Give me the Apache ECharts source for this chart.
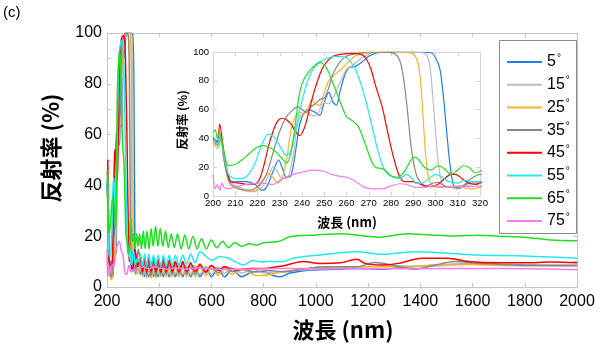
<!DOCTYPE html>
<html>
<head>
<meta charset="utf-8">
<script src="https://cdn.jsdelivr.net/npm/echarts@6/dist/echarts.min.js"></script>
<style>html,body{margin:0;padding:0;background:#fff}#c{width:600px;height:347px}</style>
</head>
<body>
<div id="c"></div>
<script>
// ---- data (wavelength nm, reflectance %) ----
const seriesNames = ['5°','15°','25°','35°','45°','55°','65°','75°'];
const seriesColors = ['#1f7fe6','#bdbdbd','#f6b42c','#888888','#ff0000','#22e8f2','#22dd22','#f27cf0'];
const xTicksMain = [200,400,600,800,1000,1200,1400,1600,1800,2000];
const yTicksMain = [0,20,40,60,80,100];

const deg5 = [[200,40],[202,35],[203.5,40],[205,25],[207,12],[210,10],[215,10],[219,8],[222,4],[224,6],[227,17],[229.5,25],[231,20],[233,13],[235,14],[237,30],[239,50],[241,58],[243,60],[246,58],[248,56],[250,65],[252,72],[254,65],[255.5,63],[257,72],[259,83],[261,89],[264,90],[267,93],[270,97],[274,99.5],[280,100],[290,100],[298,99.5],[300,96],[302,88],[303.5,70],[305,45],[306.5,22],[308,8],[309.5,5],[312,6],[315,9],[318,9],[320,10],
[328,5],[336,9],[344,4],[352,9],[360,4],[369,9],[378,4],[387,9],[396,4],[406,9],[416,4],[427,8.5],[438,4],[450,8.5],[462,4],[476,8.5],[490,4],[505,8],[520,4],[538,8],[556,4],[578,8],[600,4],[625,7.5],[650,4],[680,7],[715,4],[760,6],[800,6],[836,4.5],[863,4],[900,5.5],[989,6.7],[1080,7],[1157,7.3],[1250,7],[1341,7.8],[1468,8.7],[1550,9],[1650,9],[1800,8.7],[1900,8.5],[2000,8.5]];

const deg15 = [[200,40],[202,36],[203.5,41],[205,25],[207.5,10],[212,6],[216,4],[219,3.5],[222,6],[225,14],[227,20],[229,17],[231,12],[233,12],[236,28],[238,50],[240,57],[242,58],[244,56],[246,56],[248,60],[250,65],[252,64],[254,68],[256,75],[258,82],[260,88],[263,91],[266,95],[270,98.5],[275,100],[285,100],[294,99.5],[296,98],[297.5,90],[299,65],[300.5,35],[302,15],[303.5,8],[306,6],[309,5.5],[312,6],[316,8],[320,10],
[328,6],[336,10],[344,5],[352,10],[360,5],[369,10],[378,5],[387,9.5],[396,5],[406,9.5],[416,5],[427,9.5],[438,5],[450,9],[462,5],[476,9],[490,5],[505,8.5],[520,5],[538,8.5],[556,5],[578,8],[600,5],[625,8],[650,5.5],[680,7.5],[715,5.5],[760,7],[800,5.5],[850,6],[920,6.5],[1000,7],[1100,7.5],[1200,8],[1300,8.5],[1400,8],[1500,8.5],[1600,9],[1700,8.8],[1800,8.5],[2000,8.5]];

const deg25 = [[200,38],[202,33],[203.5,38],[205,25],[207.5,9],[212,5],[216,3],[219,3],[221,7],[223,12],[225,15.5],[227,13],[229,9],[231,12],[233,25],[235,45],[237,55],[239,58],[241,57],[243,62],[244.5,67],[246,64],[248,63],[250,72],[252,80],[254,83],[256,86],[259,90],[262,95],[265,98],[270,99.5],[278,100],[288,99.5],[290.5,98],[292.5,90],[294,65],[295.5,30],[297,12],[299,7],[303,6],[308,7],[312,6],[316,5],[320,6],
[328,9],[336,4],[344,9],[352,3.5],[360,9],[369,3.5],[378,9],[387,3.5],[396,9],[406,4],[416,9],[427,4],[438,9],[450,4],[462,8.5],[476,4],[490,8.5],[505,4],[520,8],[538,4],[556,8],[578,4.5],[600,7.5],[625,4.5],[650,7.5],[680,5],[715,7],[774,4.5],[797,4.5],[850,5.5],[928,6.7],[1000,7.5],[1100,8],[1215,8],[1341,8],[1450,8.7],[1550,9],[1700,8.5],[1800,8.5],[2000,8.5]];

const deg35 = [[200,41],[202,37],[203.5,42],[205,25],[207.5,9],[211,5],[215,4],[218,4.5],[221,8],[224,15],[227,30],[230,45],[233,55],[236,60],[238,62],[240,60],[242,58],[244,62],[246,64],[248,67],[250,68],[252,75],[254,85],[257,93],[260,97],[265,99],[270,100],[280,99.5],[283,97],[285,88],[287,65],[289,35],[291,17],[293,10],[296,7],[299,9],[301,9.5],[304,7],[307,6],[310,6],[313,8],[316,12],[320,15],
[328,9],[336,5],[344,10],[352,4.5],[360,10],[369,4.5],[378,10],[387,4.5],[396,10],[406,5],[416,10],[427,5],[438,10],[450,5],[462,9.5],[476,5],[490,9.5],[505,5],[520,9],[538,5],[556,9],[578,5.5],[600,8.5],[625,5.5],[650,8],[680,6],[720,7],[760,6],[820,6.5],[880,6],[966,7.3],[1028,8],[1100,8],[1157,8],[1226,9.6],[1290,8.7],[1380,7],[1450,8.5],[1533,10],[1620,9.3],[1700,9],[1800,8.5],[1900,8.5],[2000,8.5]];

const deg45 = [[200,40],[202,38],[203,50],[204.5,35],[206,20],[208,10],[212,9],[216,8],[219,8.5],[221,12],[223,22],[225,35],[227,45],[229,52],[231,54],[233,53],[235,50],[237,45],[239,42],[241,47],[243,58],[245,70],[247,80],[249,88],[251,93],[254,97],[258,98.5],[263,99],[267,98],[269,95],[271,88],[273,77],[276,62],[278,48],[280,34],[282,22],[284,13],[286,10],[289,10],[292,9],[295,7],[298,6.5],[301,8],[304,12],[307,15],[309,15],[312,12],[315,9],[318,8],[320,9],
[328,12],[336,6],[344,12],[352,6],[360,11.5],[369,6],[378,11.5],[387,6],[396,11],[406,6],[416,11],[427,6],[438,10.5],[450,6],[462,10],[476,6],[490,10],[505,6],[520,9.5],[538,6],[556,9],[578,6],[600,8.5],[625,6.5],[650,8],[680,7],[710,6.8],[747,7.3],[800,7.3],[850,8],[890,8.7],[950,10],[1016,9.3],[1093,9.5],[1157,10.9],[1188,9.3],[1253,8.7],[1315,9.3],[1406,11.3],[1506,11.3],[1583,10],[1700,9.5],[1800,9.5],[1900,9.8],[2000,9.5]];

const deg55 = [[200,42],[201,38],[202,35],[203,42],[205,28],[207,15],[210,12],[213,12],[216,15],[219,23],[222,36],[225,43],[228,40],[231,32],[233,28],[235,32],[237,45],[239,60],[241,72],[243,82],[245,88],[248,93],[252,96],[256,97],[260,96],[262,93],[264,88],[266,80],[268,70],[270,58],[272,45],[274,32],[276,22],[278,16],[281,13],[284,12],[287,15],[289,13],[291,9],[294,9],[297,12],[300,15],[303,13],[306,10],[310,9],[313,11],[316,10],[320,10],
[328,13],[336,8],[344,13],[352,8],[360,13],[369,8],[378,12.5],[387,8],[396,12.5],[406,8],[416,12.5],[427,8],[438,12.5],[450,8.5],[462,12.5],[476,8.5],[490,12.5],[505,9],[520,13],[538,9.5],[556,14],[580,12],[602,10.5],[632,12],[663,11.4],[690,10],[721,8.7],[759,10.4],[790,9.8],[813,10],[874,10],[912,11.3],[1016,12.6],[1157,13.9],[1253,12.9],[1380,13.9],[1506,13.3],[1621,12.6],[1801,12.2],[1900,11.8],[2000,11.3]];

const deg65 = [[200,44],[201,46],[202,40],[203,44],[205,30],[207,21],[210,22],[213,25],[216,29],[219,33],[222,35],[225,34],[228,31],[231,26],[233,23],[235,30],[237,50],[238.5,68],[240,78],[242,84],[244,88],[246,91],[248,93],[250,91],[252,86],[254,78],[256,70],[258,62],[260,55],[262,53],[265,49],[268,38],[271,25],[273,20],[276,19],[278,17],[280,14],[283,13],[286,17],[289,25],[290.5,27],[292,26],[295,20],[298,18],[301,21],[304,19],[307,15],[310,18],[312.5,21],[315,20],[318,16],[320,17],
[325,21],[332,15],[339,22],[346,15],[353,22],[361,15],[369,23],[377,16],[386,24],[395,16],[404,23],[414,16],[424,22],[435,15.5],[446,21],[458,15.5],[470,21],[484,15],[498,20.5],[513,15],[529,20],[545,15],[562,19],[580,15],[600,18.5],[620,15.5],[642,18],[665,15.5],[690,17.5],[715,16],[745,17],[775,16.5],[800,17.4],[860,18],[900,19.8],[1000,20.5],[1100,21],[1150,20.5],[1240,19.6],[1350,21],[1440,20.5],[1530,20.1],[1620,20.4],[1700,20],[1800,19.6],[1900,18.5],[2000,18.2]];

const deg75 = [[200,15],[201,5],[202,8],[203,4],[204,9],[205,6],[207,5],[209,6],[212,7],[215,8],[218,8.5],[221,9],[224,8.5],[227,8],[230,11],[233,13],[236,15],[240,16.5],[245,18],[250,17],[253,15],[256,14],[260,13],[263,11],[266,8],[268,6],[272,5],[276,5],[280,7],[284,8.5],[287,8],[291,6],[295,6],[299,7],[303,6.5],[307,6],[311,7],[315,6.5],[320,7],
[340,8],[360,7],[380,8],[400,7.5],[430,7],[460,7.5],[500,7],[550,7.5],[600,7],[700,7],[800,7.2],[900,7.3],[1000,7.2],[1200,7.2],[1400,7.2],[1600,7.3],[1800,7.2],[2000,6.8]];

const allData = [deg5,deg15,deg25,deg35,deg45,deg55,deg65,deg75];

// ---- chart ----
const chart = echarts.init(document.getElementById('c'), null, {renderer:'canvas'});
const NUM = 'Liberation Sans, Arial, sans-serif';
const CJK = '"Noto Sans CJK JP", "Noto Sans", sans-serif';
const frameMain = '#c4c4c4';
const frameInset = '#d4d4d4';

function axisCommon(color, labelSize, showLabel, margin){
  return {
    axisLine:{show:true, onZero:false, lineStyle:{color:color, width:1}},
    axisTick:{show:true, inside:true, length:4, lineStyle:{color:color}},
    axisLabel:{show:showLabel, color:'#000', fontSize:labelSize, fontFamily:NUM, margin:margin,
      formatter:function(v){ return String(v); }},
    splitLine:{show:false}
  };
}

const series = [];
seriesNames.forEach((n,i)=>{
  series.push({name:n, type:'line', xAxisIndex:0, yAxisIndex:0, data:allData[i], showSymbol:false, smooth:0.3,
    lineStyle:{width:1.5, color:seriesColors[i]}, itemStyle:{color:seriesColors[i]}, z:2+i*0.01});
});
seriesNames.forEach((n,i)=>{
  series.push({name:n, type:'line', xAxisIndex:2, yAxisIndex:2, data:allData[i], showSymbol:false, smooth:0.3,
    lineStyle:{width:1.2, color:seriesColors[i]}, itemStyle:{color:seriesColors[i]}, z:2+i*0.01});
});

const option = {
  animation:false,
  backgroundColor:'#fff',
  grid:[
    {left:107, top:33, width:470, height:254, show:false},
    {left:213, top:52, width:267, height:144, show:false}
  ],
  xAxis:[
    Object.assign({gridIndex:0, type:'value', min:xTicksMain[0], max:xTicksMain[xTicksMain.length-1], interval:200, position:'bottom'}, axisCommon(frameMain,16,true,7)),
    Object.assign({gridIndex:0, type:'value', min:200, max:2000, interval:200, position:'top'}, axisCommon(frameMain,16,false,7)),
    Object.assign({gridIndex:1, type:'value', min:200, max:320, interval:10, position:'bottom'}, axisCommon(frameInset,9.5,true,2)),
    Object.assign({gridIndex:1, type:'value', min:200, max:320, interval:10, position:'top'}, axisCommon(frameInset,9.5,false,2))
  ],
  yAxis:[
    Object.assign({gridIndex:0, type:'value', min:yTicksMain[0], max:yTicksMain[yTicksMain.length-1], interval:10, position:'left'}, axisCommon(frameMain,16,true,5)),
    Object.assign({gridIndex:0, type:'value', min:0, max:100, interval:10, position:'right'}, axisCommon(frameMain,16,false,5)),
    Object.assign({gridIndex:1, type:'value', min:0, max:100, interval:20, position:'left'}, axisCommon(frameInset,9.5,true,4)),
    Object.assign({gridIndex:1, type:'value', min:0, max:100, interval:20, position:'right'}, axisCommon(frameInset,9.5,false,4))
  ],
  legend:{
    orient:'vertical', left:502, top:48, itemWidth:35, itemHeight:2, itemGap:5.7, icon:'rect',
    data:seriesNames, z:10,
    formatter:function(name){ return '{a|'+name.replace('°','')+'}{b|°}'; },
    textStyle:{
      rich:{
        a:{fontSize:16, fontFamily:NUM, color:'#000', lineHeight:18},
        b:{fontSize:10, fontFamily:NUM, color:'#000', lineHeight:10, verticalAlign:'top', padding:[0,0,0,1]}
      }
    }
  },
  graphic:[
    {type:'rect', z:3, shape:{x:499.5, y:40.5, width:77, height:193}, style:{fill:'#fff', stroke:'#8a8a8a', lineWidth:1}},
    {type:'text', x:3, y:13, style:{text:'(c)', font:'15px '+NUM, fill:'#000', textAlign:'left', textVerticalAlign:'middle'}},
    {type:'text', x:51, y:148, rotation:Math.PI/2, style:{text:'反射率 (%)', font:'bold 22px '+CJK, fill:'#000', textAlign:'center', textVerticalAlign:'middle'}},
    {type:'text', x:343, y:330, style:{text:'波長 (nm)', font:'bold 22px '+CJK, fill:'#000', textAlign:'center', textVerticalAlign:'middle'}},
    {type:'text', x:182, y:120, rotation:Math.PI/2, style:{text:'反射率 (%)', font:'bold 12px '+CJK, fill:'#000', textAlign:'center', textVerticalAlign:'middle'}},
    {type:'text', x:347, y:222, style:{text:'波長 (nm)', font:'bold 13px '+CJK, fill:'#000', textAlign:'center', textVerticalAlign:'middle'}}
  ],
  series:series
};
option.yAxis[0].axisLabel.formatter = function(v){ return v % 20 === 0 ? String(v) : ''; };
chart.setOption(option);
</script>
</body>
</html>
